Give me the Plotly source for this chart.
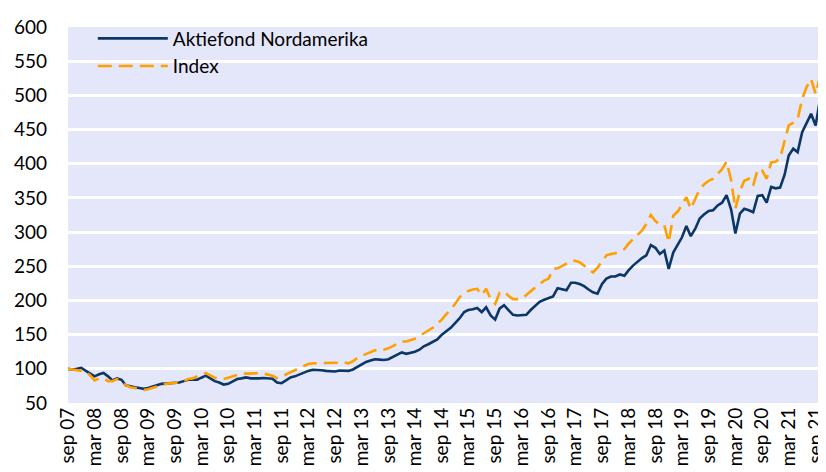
import pandas as pd
import plotly.graph_objects as go

# Monthly observations, sep 2007 .. oct 2021
start_month = "2007-09-01"

fund_values = [
    100, 99, 100, 101.5, 97, 93, 89, 92, 94, 89,
    83, 86, 84, 76, 74, 73, 72, 70.7, 72, 74.6,
    76, 78, 78.5, 79, 79.5, 80, 82, 84, 84, 84,
    87, 90, 86, 82, 80, 77, 78, 81, 85, 86,
    87.5, 86, 85.6, 86, 86.5, 86, 85.6, 80, 79, 83,
    87.5, 89, 92, 94, 97, 98.6, 98.6, 98, 97, 96,
    96, 97.6, 97, 97, 99, 103, 107, 110, 112, 114,
    113.5, 113, 114, 117, 121, 124, 122, 123, 125, 128,
    133, 136, 139, 143, 150, 155, 160, 167, 174, 183,
    186, 187, 189, 183, 190, 178, 172, 188, 193, 186,
    179, 178, 179, 179, 186, 192, 198, 201, 203, 206,
    218, 216, 215, 226, 226, 224, 221, 216, 212, 210,
    224, 232, 235, 235, 238, 236, 244, 251, 257, 262,
    266, 281, 277, 268, 273, 246, 270, 282, 292, 309,
    294, 305, 320, 326, 331, 332, 339, 343, 354, 333,
    298, 327, 334, 332, 329, 353, 354, 343, 366, 364,
    365, 384, 412, 422, 417, 446, 460, 473, 456, 494,
]

index_values = [
    100, 99, 98, 98, 96, 90, 83, 86, 86, 82,
    82, 85, 82, 76, 73, 72, 70, 69, 70, 72,
    74.6, 76, 78, 79, 79.5, 80, 82, 85, 86, 89,
    92, 93.6, 90, 87, 85, 85, 87, 89, 91, 93,
    93, 93.5, 93.8, 93.5, 93, 92, 90, 86.5, 88, 92,
    95, 98.6, 102, 105, 107, 108, 108, 108.5, 109, 108,
    108.5, 109, 109.5, 108, 111, 116, 119, 122, 125, 127,
    128.5, 128, 130, 133, 137, 140, 140, 142, 144, 148,
    152, 156, 160, 166, 172, 180, 186, 195, 205, 210,
    214, 216, 217, 208, 217, 202, 195, 211, 213, 207,
    202, 202, 203, 208, 214, 219, 224, 229, 232, 246,
    247, 250, 254, 258, 258, 256, 251, 246, 241, 248,
    257, 266, 268, 269, 273, 275, 283, 290, 296, 302,
    312, 325, 316, 311, 310, 285, 324, 330, 340, 351,
    334, 350, 363, 370, 375, 378, 385, 392, 403, 376,
    334, 360, 375, 378, 368, 392, 390, 378, 402, 403,
    408, 432, 456, 460, 465, 495, 512, 524, 502, 528,
]

tick_labels = [
    "sep 07", "mar 08", "sep 08", "mar 09", "sep 09", "mar 10", "sep 10",
    "mar 11", "sep 11", "mar 12", "sep 12", "mar 13", "sep 13", "mar 14",
    "sep 14", "mar 15", "sep 15", "mar 16", "sep 16", "mar 17", "sep 17",
    "mar 18", "sep 18", "mar 19", "sep 19", "mar 20", "sep 20", "mar 21",
    "sep 21",
]

series_names = ["Aktiefond Nordamerika", "Index"]

months = pd.date_range(start_month, periods=len(fund_values), freq="MS")
tick_dates = pd.date_range(start_month, periods=len(tick_labels), freq="6MS")

FONT = "Lato, 'Open Sans', sans-serif"

fig = go.Figure()
fig.add_trace(go.Scatter(
    x=months, y=fund_values, name=series_names[0], mode="lines",
    line=dict(color="#0B3768", width=2.6),
))
fig.add_trace(go.Scatter(
    x=months, y=index_values, name=series_names[1], mode="lines",
    line=dict(color="#FFA000", width=2.6, dash="14px,7px"),
))

# page body has an 8px default margin: figure is sized to fit the window
fig.update_layout(
    width=818, height=464,
    margin=dict(l=60, r=6, t=19, b=69, autoexpand=False),
    paper_bgcolor="white",
    plot_bgcolor="#E4E6FA",
    font=dict(family=FONT, size=19, color="#000000"),
    showlegend=True,
    legend=dict(
        x=0.033, y=1.02, xanchor="left", yanchor="top",
        bgcolor="rgba(0,0,0,0)", itemwidth=70,
        font=dict(family=FONT, size=19, color="#000000"),
        tracegroupgap=0,
    ),
)
fig.update_xaxes(
    range=[months[0], months[-1]],
    tickmode="array", tickvals=tick_dates, ticktext=tick_labels,
    tickangle=-90, showgrid=False, zeroline=False, showline=False,
    ticks="", tickfont=dict(family=FONT, size=19, color="#000000"),
    automargin=False,
)
fig.update_yaxes(
    range=[50, 600], dtick=50, tick0=50,
    showgrid=True, gridcolor="white", gridwidth=2.5,
    zeroline=False, showline=False, ticks="",
    tickfont=dict(family=FONT, size=19, color="#000000"),
    ticklabelstandoff=20,
    automargin=False,
)

fig.write_html("out.html")
